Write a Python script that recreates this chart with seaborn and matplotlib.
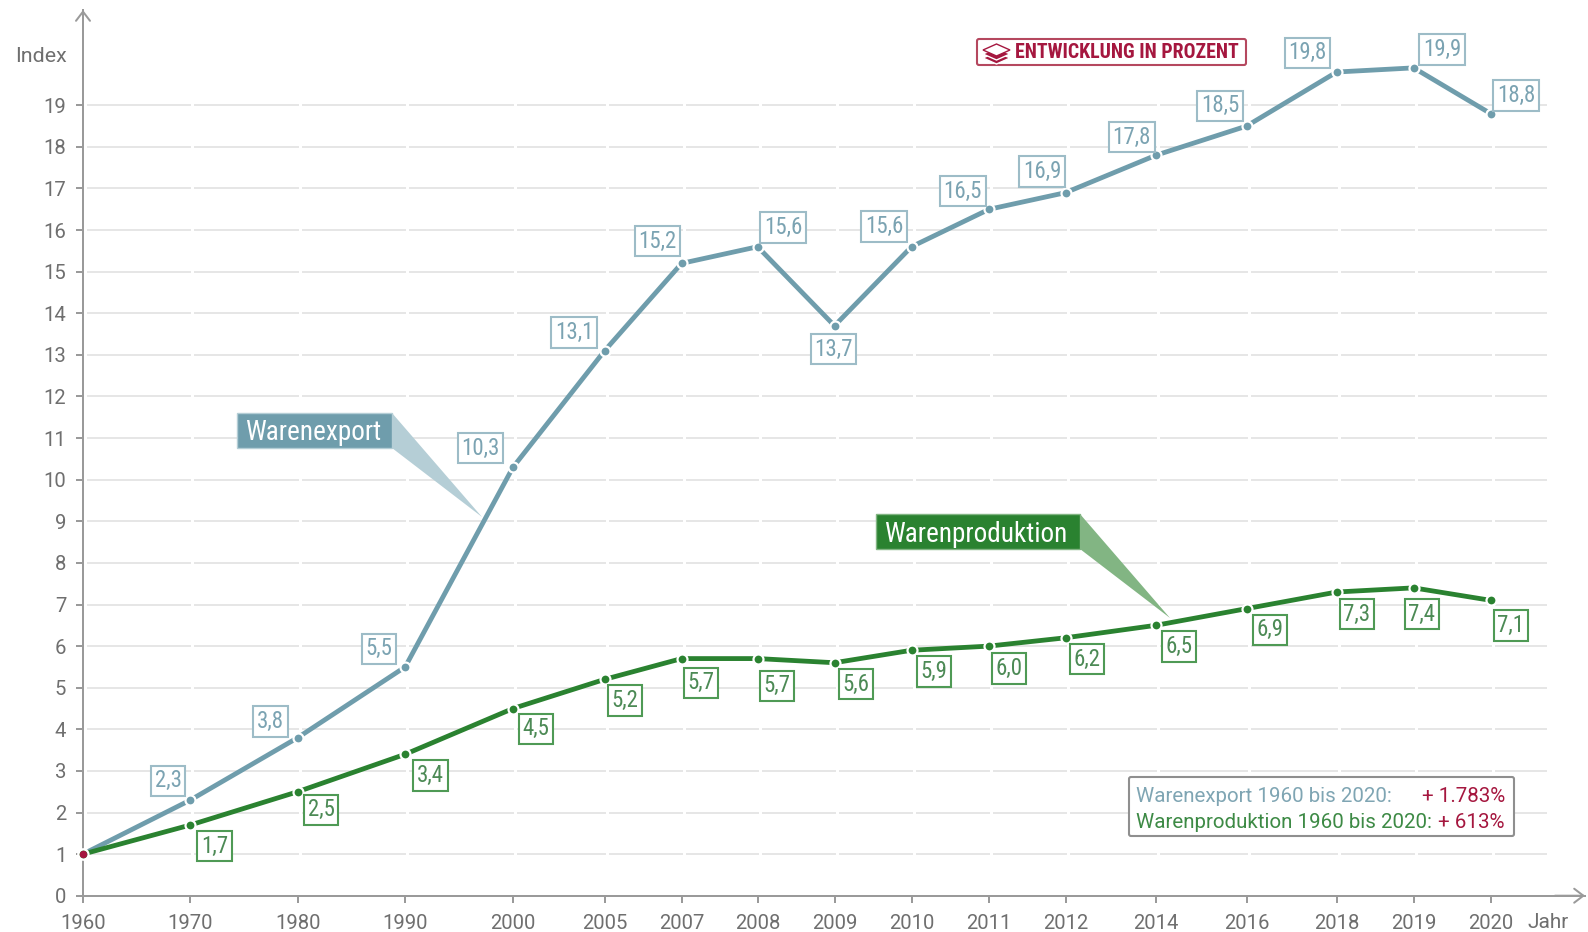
import matplotlib
matplotlib.use('Agg')
import numpy as np
import pandas as pd
import seaborn as sns
import matplotlib.pyplot as plt
from matplotlib.patches import Polygon, Rectangle, FancyBboxPatch
from matplotlib.transforms import Affine2D, ScaledTranslation

# data
years = [1960, 1970, 1980, 1990, 2000, 2005, 2007, 2008, 2009, 2010, 2011, 2012, 2014, 2016, 2018, 2019, 2020]
export_vals = [1.0, 2.3, 3.8, 5.5, 10.3, 13.1, 15.2, 15.6, 13.7, 15.6, 16.5, 16.9, 17.8, 18.5, 19.8, 19.9, 18.8]
prod_vals = [1.0, 1.7, 2.5, 3.4, 4.5, 5.2, 5.7, 5.7, 5.6, 5.9, 6.0, 6.2, 6.5, 6.9, 7.3, 7.4, 7.1]
y_ticks = list(range(0, 20))

# layout: the time axis is not linear, pixel slot per year
slot_years = years + [2023]
slot_px = [83, 190.4, 297.8, 405.2, 513, 604.6, 681.6, 757.6, 834.5, 911.5, 989, 1065.5, 1156, 1246.5, 1336.7, 1413.7, 1490.7, 1585]

# label offsets from their points, in px (1970 onwards)
export_off = [(-22, 19), (-27, 16), (-26, 18), (-32, 19), (-30, 18), (-24, 22), (25, 19), (-1, -23),
              (-27, 20), (-26, 18), (-23, 21), (-24, 18), (-26, 20), (-29, 19), (28, 18), (25, 18)]
prod_off = [(24, -21), (23, -18), (25, -21), (23, -20), (20, -21), (19, -24), (19, -27), (21, -21),
            (22, -21), (20, -22), (21, -21), (23, -21), (23, -21), (20, -22), (8, -26), (20, -25)]

export_col = '#6f9dac'
prod_col = '#2a8230'
red = '#a5173f'
axis_col = '#9a9a9a'
grid_col = '#e6e6e6'
tick_txt = '#6f6f6f'

W, H = 1588, 932
pt = 72 / 100  # one pixel in points


def fwd(x):
    return np.interp(x, slot_years, slot_px)


def inv(x):
    return np.interp(x, slot_px, slot_years)


sns.set_theme(style='white')
plt.rcParams['font.family'] = ['Roboto', 'DejaVu Sans']
narrow = ['Roboto Condensed', 'Roboto', 'DejaVu Sans']

y_top = 895.7 - 10
fig = plt.figure(figsize=(W / 100, H / 100), dpi=100)
ax = fig.add_axes([83 / W, (H - 895.7) / H, (1585 - 83) / W, y_top / H])
ax.patch.set_alpha(0)

df = pd.DataFrame({
    'Jahr': years + years,
    'Index': export_vals + prod_vals,
    'Reihe': ['Warenexport'] * len(years) + ['Warenproduktion'] * len(years),
})
sns.lineplot(data=df, x='Jahr', y='Index', hue='Reihe', palette={'Warenexport': export_col, 'Warenproduktion': prod_col},
             marker='o', markersize=10 * pt, markeredgecolor='white', markeredgewidth=2.2 * pt,
             linewidth=4.8 * pt, legend=False, ax=ax, zorder=5, clip_on=False)
ax.scatter(years[:1], export_vals[:1], s=(7.5 * pt) ** 2, color=red, zorder=6, linewidths=0, clip_on=False)

ax.set_xscale('function', functions=(fwd, inv))
ax.set_xlim(1960, 2023)
ax.set_ylim(0, y_top / 41.6)

# grid with small white notches next to each x tick
ax.hlines(y_ticks[1:], 1960, 2021.8, color=grid_col, lw=2 * pt, zorder=1)
notch = ax.transData + ScaledTranslation(2 * pt / 72, 0, fig.dpi_scale_trans)
ax.vlines(years, 0, 19.3, color='white', lw=3 * pt, zorder=2, transform=notch, clip_on=False)

ax.set_xticks(years)
ax.set_xticklabels([str(y) for y in years])
ax.set_yticks(y_ticks)
ax.minorticks_off()
ax.tick_params(axis='x', length=6.7 * pt, width=2 * pt, color=axis_col, labelcolor=tick_txt, labelsize=14.6, pad=8.5, bottom=True)
ax.tick_params(axis='y', length=7 * pt, width=2 * pt, color=axis_col, labelcolor=tick_txt, labelsize=14.6, pad=7, left=True)
ax.set_xlabel('')
ax.set_ylabel('')
sns.despine(ax=ax)
for s in ['left', 'bottom']:
    ax.spines[s].set_color(axis_col)
    ax.spines[s].set_linewidth(2 * pt)

arrow = dict(arrowstyle='->,head_length=0.55,head_width=0.42', color=axis_col, lw=2 * pt, shrinkA=0, shrinkB=0)
ax.annotate('', xy=(1, 0), xytext=(0.98, 0), xycoords='axes fraction', arrowprops=arrow)
ax.annotate('', xy=(0, 1), xytext=(0, 0.97), xycoords='axes fraction', arrowprops=arrow)

# pixel coordinates, top-left origin, for the fixed furniture
px = Affine2D().scale(1, -1).translate(0, H)

ax.text(67, 56, 'Index', transform=px, ha='right', va='center', color=tick_txt, fontsize=15.4)
ax.text(1548, 923, 'Jahr', transform=px, ha='center', va='center', color=tick_txt, fontsize=15, clip_on=False)


def point_labels(vals, offs, edge, txt):
    for y, v, (dx, dy) in zip(years[1:], vals[1:], offs):
        ax.annotate(f'{v:.1f}'.replace('.', ','), xy=(y, v), xytext=(dx * 1.0128, dy * 1.0128),
                    textcoords='offset pixels', ha='center', va='center', color=txt, fontsize=16.5,
                    family=narrow, zorder=7,
                    bbox=dict(boxstyle='square,pad=0.16', fc='white', ec=edge, lw=1.5))


point_labels(export_vals, export_off, '#9dbcc7', '#7ba3b2')
point_labels(prod_vals, prod_off, '#4f9a55', '#4c8a55')


def callout(x0, y0, x1, y1, tip, name, col, tail_col, tx):
    ax.add_patch(Polygon([(x1, y0), (x1, y1), tip], closed=True, transform=px, fc=tail_col, ec='none', zorder=3))
    ax.add_patch(Rectangle((x0, y0), x1 - x0, y1 - y0, transform=px, fc=col, ec=tail_col, lw=1, zorder=4))
    ax.text(tx, (y0 + y1) / 2 + 2.5, name, transform=px, ha='center', va='center', color='white',
            fontsize=19.6, family=narrow, zorder=8)


callout(237, 413, 392, 448, (482, 517), 'Warenexport', export_col, '#b5ced6', 313)
callout(876, 514, 1080, 549, (1170, 618), 'Warenproduktion', prod_col, '#82b583', 976)

# badge
ax.add_patch(FancyBboxPatch((977, 39), 269, 26, boxstyle='round,pad=0,rounding_size=2', transform=px,
                            fc='white', ec='#b5485f', lw=1.5, zorder=4))
ax.text(1015, 53, 'ENTWICKLUNG IN PROZENT', transform=px, ha='left', va='center', color=red,
        fontsize=14.3, fontweight='bold', family=narrow, zorder=8)
for dy, fc in [(8, red), (4, red), (0, 'white')]:
    ax.add_patch(Polygon([(983, 50 + dy), (996.5, 44 + dy), (1010, 50 + dy), (996.5, 56 + dy)], closed=True,
                         transform=px, fc=fc, ec=red if fc == 'white' else 'white', lw=1, zorder=5))

# note box
ax.add_patch(FancyBboxPatch((1129, 777), 385, 59, boxstyle='round,pad=0,rounding_size=2', transform=px,
                            fc='white', ec='#8f8f8f', lw=1.5, zorder=4))
ax.text(1136, 796, 'Warenexport 1960 bis 2020:', transform=px, ha='left', va='center', color='#7fa5b3', fontsize=14.8, zorder=8)
ax.text(1505, 796, '+ 1.783%', transform=px, ha='right', va='center', color=red, fontsize=14.8, zorder=8)
ax.text(1136, 822, 'Warenproduktion 1960 bis 2020:', transform=px, ha='left', va='center', color='#3d8a45', fontsize=14.8, zorder=8)
ax.text(1505, 822, '+ 613%', transform=px, ha='right', va='center', color=red, fontsize=14.8, zorder=8)

fig.savefig('out.png', dpi=100, facecolor='white')
